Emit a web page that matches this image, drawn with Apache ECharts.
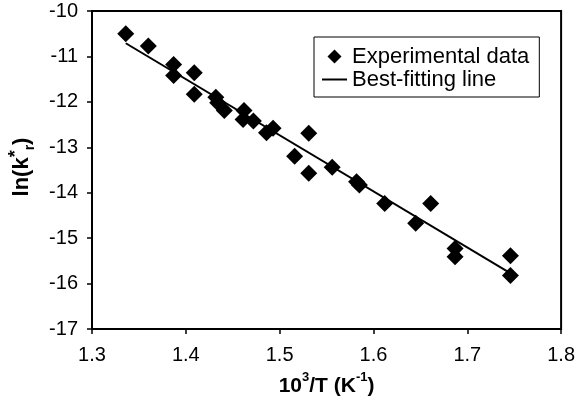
<!DOCTYPE html>
<html>
<head>
<meta charset="utf-8">
<script src="https://cdn.jsdelivr.net/npm/echarts@6/dist/echarts.min.js"></script>
<style>html,body{margin:0;padding:0;background:#fff;}#c{width:578px;height:402px;}</style>
</head>
<body>
<div id="c"></div>
<script>
// Experimental data: 10^3/T (K^-1) and ln(k*_r)
var expX = [1.336, 1.360, 1.387, 1.387, 1.409, 1.409, 1.432, 1.434, 1.441, 1.462, 1.461, 1.472, 1.486, 1.493, 1.516, 1.531, 1.531, 1.556, 1.582, 1.585, 1.612, 1.661, 1.645, 1.687, 1.687, 1.746, 1.746];
var expY = [-10.50, -10.77, -11.18, -11.42, -11.36, -11.83, -11.90, -12.02, -12.19, -12.19, -12.39, -12.42, -12.68, -12.58, -13.20, -12.69, -13.57, -13.44, -13.76, -13.83, -14.24, -14.24, -14.67, -15.23, -15.41, -15.39, -15.82];
// Best-fitting line endpoints
var fitX = [1.336, 1.744];
var fitY = [-10.71, -15.75];
var xTicks = [1.3, 1.4, 1.5, 1.6, 1.7, 1.8];
var yTicks = [-17, -16, -15, -14, -13, -12, -11, -10];

var expData = expX.map(function (x, i) { return [x, expY[i]]; });
var fitData = fitX.map(function (x, i) { return [x, fitY[i]]; });

var FONT = '"Liberation Sans", Arial, sans-serif';
var chart = echarts.init(document.getElementById('c'), null, {renderer: 'canvas'});
chart.setOption({
  animation: false,
  backgroundColor: '#fff',
  grid: {left: 92, right: 15, top: 11, bottom: 69, show: true, borderColor: '#000', borderWidth: 2, containLabel: false},
  legend: {
    orient: 'vertical',
    left: 314, top: 37,
    padding: [8, 10, 6, 8],
    itemGap: 0,
    itemWidth: 25, itemHeight: 14,
    borderColor: '#000', borderWidth: 1,
    textStyle: {fontFamily: FONT, fontSize: 22, color: '#000', lineHeight: 23},
    data: [
      {name: 'Experimental data', icon: 'path://M7,0 L14,7 L7,14 L0,7 Z', itemStyle: {color: '#000', opacity: 1}},
      {name: 'Best-fitting line', icon: 'path://M0,0 L25,0 L25,2 L0,2 Z', itemStyle: {color: '#000'}}
    ]
  },
  graphic: [{
    type: 'text', x: 22, y: 167, rotation: Math.PI / 2,
    style: {
      text: '{b|ln(k}{s|*}{r|r}{b|)}',
      align: 'center', verticalAlign: 'middle',
      rich: {
        b: {fontFamily: FONT, fontSize: 22, fontWeight: 'bold', fill: '#000', lineHeight: 30, verticalAlign: 'middle'},
        s: {fontFamily: FONT, fontSize: 18, fontWeight: 'bold', fill: '#000', lineHeight: 30, verticalAlign: 'top'},
        r: {fontFamily: FONT, fontSize: 14, fontWeight: 'bold', fill: '#000', lineHeight: 30, verticalAlign: 'bottom'}
      }
    }
  }],
  xAxis: {
    type: 'value', min: xTicks[0], max: xTicks[xTicks.length - 1], interval: 0.1,
    name: '{b|10}{s|3}{b|/T (K}{s|-1}{b|)}',
    nameLocation: 'middle', nameGap: 42,
    nameTextStyle: {rich: {
      b: {fontFamily: FONT, fontSize: 21, fontWeight: 'bold', color: '#000', lineHeight: 26, verticalAlign: 'bottom'},
      s: {fontFamily: FONT, fontSize: 13, fontWeight: 'bold', color: '#000', lineHeight: 26, verticalAlign: 'top'}
    }},
    axisLine: {onZero: false, lineStyle: {color: '#000', width: 2}},
    axisTick: {inside: false, length: 5, lineStyle: {color: '#000', width: 1.5}},
    axisLabel: {fontFamily: FONT, fontSize: 20, color: '#000', margin: 16,
      formatter: function (v) { return v.toFixed(1); }},
    splitLine: {show: false}
  },
  yAxis: {
    type: 'value', min: yTicks[0], max: yTicks[yTicks.length - 1], interval: 1,
    axisLine: {onZero: false, lineStyle: {color: '#000', width: 2}},
    axisTick: {inside: false, length: 5, lineStyle: {color: '#000', width: 1.5}},
    axisLabel: {fontFamily: FONT, fontSize: 20, color: '#000', margin: 14},
    splitLine: {show: false}
  },
  series: [
    {
      name: 'Experimental data', type: 'scatter', data: expData,
      symbol: 'diamond', symbolSize: 17,
      itemStyle: {color: '#000', opacity: 1}, z: 3
    },
    {
      name: 'Best-fitting line', type: 'line', data: fitData,
      symbol: 'none', lineStyle: {color: '#000', width: 2}, itemStyle: {color: '#000'}, z: 2
    }
  ]
});
</script>
</body>
</html>
